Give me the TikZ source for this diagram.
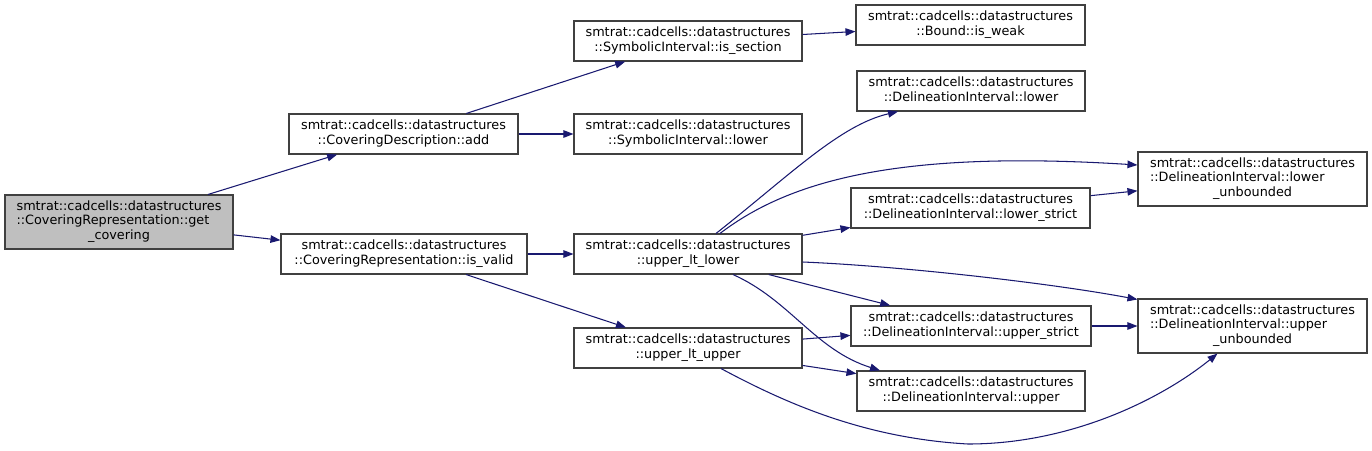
\documentclass[tikz,border=0pt]{standalone}
\usepackage{fontspec}
\setmainfont{DejaVu Sans}
\usetikzlibrary{arrows.meta,calc}
\definecolor{edgecol}{HTML}{191970}
\definecolor{boxcol}{HTML}{404040}
\definecolor{grayfill}{HTML}{BFBFBF}
\newcommand\mytwolines[2]{\begin{tabular}{@{}c@{}}#1\\#2\end{tabular}}
\newcommand\mythreelines[3]{\begin{tabular}{@{}l@{}}#1\\#2\\\multicolumn{1}{@{}c@{}}{#3}\end{tabular}}
\begin{document}
\begin{tikzpicture}[x=1pt,y=-1pt,
  fnbox/.style={draw=boxcol,line width=1.1pt,fill=white,inner sep=0pt,
    font=\fontsize{12.8}{14.5}\selectfont,minimum height=40pt},
  edge/.style={draw=edgecol,line width=1.05pt,
    -{Triangle[length=10pt,width=7.5pt,fill=edgecol]}}]
\fill[white] (0,0) rectangle (1372,450);
\useasboundingbox (0,0) rectangle (1372,450);
% nodes
\node[fnbox,fill=grayfill,minimum width=228pt,minimum height=54pt] (gc) at (119,222)
  {\mythreelines{smtrat::cadcells::datastructures}{::CoveringRepresentation::get}{\_covering}};
\node[fnbox,minimum width=229pt] (add) at (403.5,134)
  {\mytwolines{smtrat::cadcells::datastructures}{::CoveringDescription::add}};
\node[fnbox,minimum width=246pt] (valid) at (404,254)
  {\mytwolines{smtrat::cadcells::datastructures}{::CoveringRepresentation::is\_valid}};
\node[fnbox,minimum width=228pt] (issec) at (688,41)
  {\mytwolines{smtrat::cadcells::datastructures}{::SymbolicInterval::is\_section}};
\node[fnbox,minimum width=228pt] (silow) at (688,134)
  {\mytwolines{smtrat::cadcells::datastructures}{::SymbolicInterval::lower}};
\node[fnbox,minimum width=228pt] (ultl) at (688,254)
  {\mytwolines{smtrat::cadcells::datastructures}{::upper\_lt\_lower}};
\node[fnbox,minimum width=228pt] (ultu) at (688,348)
  {\mytwolines{smtrat::cadcells::datastructures}{::upper\_lt\_upper}};
\node[fnbox,minimum width=229pt] (weak) at (970.5,25)
  {\mytwolines{smtrat::cadcells::datastructures}{::Bound::is\_weak}};
\node[fnbox,minimum width=228pt] (dilow) at (971,91)
  {\mytwolines{smtrat::cadcells::datastructures}{::DelineationInterval::lower}};
\node[fnbox,minimum width=239pt] (lstrict) at (970.5,208)
  {\mytwolines{smtrat::cadcells::datastructures}{::DelineationInterval::lower\_strict}};
\node[fnbox,minimum width=240pt] (ustrict) at (971,326)
  {\mytwolines{smtrat::cadcells::datastructures}{::DelineationInterval::upper\_strict}};
\node[fnbox,minimum width=228pt] (diup) at (971,391)
  {\mytwolines{smtrat::cadcells::datastructures}{::DelineationInterval::upper}};
\node[fnbox,minimum width=229pt,minimum height=54pt] (lunb) at (1252.5,179)
  {\mythreelines{smtrat::cadcells::datastructures}{::DelineationInterval::lower}{\_unbounded}};
\node[fnbox,minimum width=229pt,minimum height=54pt] (uunb) at (1252.5,326)
  {\mythreelines{smtrat::cadcells::datastructures}{::DelineationInterval::upper}{\_unbounded}};
% straight edges
\draw[edge] (gc) -- (add);
\draw[edge] (gc) -- (valid);
\draw[edge] (add) -- (issec);
\draw[edge] (add) -- (silow);
\draw[edge] (issec) -- (weak);
\draw[edge] (valid) -- (ultl);
\draw[edge] (valid) -- (ultu);
\draw[edge] (ultl) -- (lstrict);
\draw[edge] (ultl) -- (ustrict);
\draw[edge] (lstrict) -- (lunb);
\draw[edge] (ustrict) -- (uunb);
\draw[edge] (ultu) -- (ustrict);
\draw[edge] (ultu) -- (diup);
% curved edges
\draw[edge] ($(ultl.north)+(28,0)$) .. controls (790,175) and (840,125) .. ($(dilow.south)+(-73,0)$);
\draw[edge] ($(ultl.north)+(32,0)$) .. controls (790,180) and (900,150) .. ($(lunb.west)+(0,-14)$);
\draw[edge] ($(ultl.east)+(0,8)$) .. controls (900,266) and (1050,283) .. ($(uunb.north west)+(0,1)$);
\draw[edge] ($(ultl.south)+(45,0)$) .. controls (790,300) and (815,350) .. ($(diup.north)+(-91,0)$);
\draw[edge] ($(ultu.south)+(33,0)$) .. controls (780,400) and (860,438) .. (968,444)
  .. controls (1070,444) and (1160,400) .. ($(uunb.south)+(-35,0)$);
\end{tikzpicture}
\end{document}
